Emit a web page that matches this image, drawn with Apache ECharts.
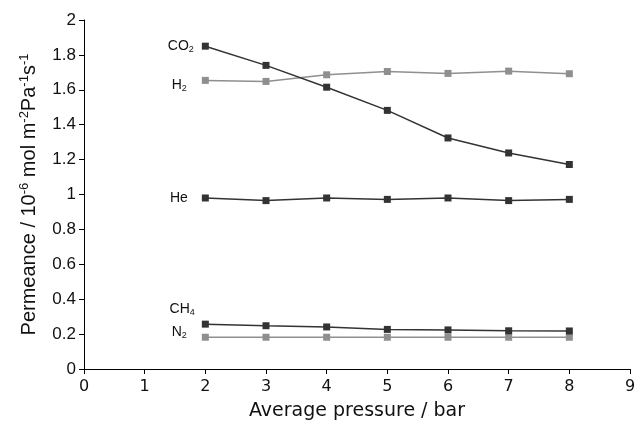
<!DOCTYPE html>
<html><head><meta charset="utf-8">
<script src="https://cdn.jsdelivr.net/npm/echarts@6/dist/echarts.min.js"></script>
<style>html,body{margin:0;padding:0;background:#fff}#c{width:638px;height:425px}</style>
</head><body><div id="c"></div>
<script>
const pressures = [2, 3, 4, 5, 6, 7, 8];
const co2 = [1.85, 1.74, 1.615, 1.482, 1.324, 1.238, 1.172];
const h2 = [1.654, 1.648, 1.686, 1.705, 1.694, 1.707, 1.692];
const he = [0.98, 0.965, 0.98, 0.972, 0.98, 0.965, 0.972];
const ch4 = [0.257, 0.248, 0.241, 0.227, 0.224, 0.219, 0.218];
const n2 = [0.182, 0.182, 0.182, 0.182, 0.182, 0.182, 0.182];
const labels = ['CO{s|2}', 'H{s|2}', 'He', 'CH{s|4}', 'N{s|2}'];

const dark = '#333333', light = '#8f8f8f';
const LS = "Arial, 'Liberation Sans', sans-serif";
function mk(name, vals, color, lab, off) {
  return {
    name, type: 'line', data: pressures.map((p, i) => [p, vals[i]]),
    symbol: 'rect', symbolSize: 7, showSymbol: true,
    lineStyle: {color, width: 1.5}, itemStyle: {color},
    label: {
      show: true, position: 'left', distance: 10, offset: off,
      formatter: p => p.dataIndex === 0 ? lab : '',
      color: '#111', fontFamily: LS, fontSize: 14,
      rich: {s: {fontSize: 9, verticalAlign: 'bottom', padding: [6, 0, 0, 0], color: '#111', fontFamily: LS}}
    },
    z: color === dark ? 3 : 2
  };
}
const chart = echarts.init(document.getElementById('c'));
chart.setOption({
  animation: false,
  grid: {left: 84, right: 8, top: 20, bottom: 56, containLabel: false, outerBoundsMode: 'none'},
  xAxis: {
    type: 'value', min: 0, max: 9, interval: 1,
    name: 'Average pressure / bar', nameLocation: 'middle', nameGap: 33,
    nameTextStyle: {fontFamily: "'DejaVu Sans'", fontSize: 19, color: '#111'},
    axisLine: {lineStyle: {color: '#000', width: 1}},
    axisTick: {show: true, length: 5, lineStyle: {color: '#000'}},
    axisLabel: {fontFamily: "'DejaVu Sans'", fontSize: 16, color: '#111', margin: 10},
    splitLine: {show: false}
  },
  yAxis: {
    type: 'value', min: 0, max: 2, interval: 0.2,
    name: 'Permeance / 10{p|-6} mol m{p|-2}Pa{p|-1}s{p|-1}', nameLocation: 'middle', nameGap: 44,
    nameTextStyle: {fontFamily: LS, fontSize: 20, color: '#111',
      rich: {p: {fontSize: 13, verticalAlign: 'top', padding: [0, 0, 9, 0], color: '#111', fontFamily: LS}}},
    axisLine: {show: true, lineStyle: {color: '#000', width: 1}},
    axisTick: {show: true, length: 5, lineStyle: {color: '#000'}},
    axisLabel: {fontFamily: LS, fontSize: 17, color: '#111', margin: 8,
      formatter: v => String(+v.toFixed(1))},
    splitLine: {show: false}
  },
  series: [
    mk('CO2', co2, dark, labels[0], [2, 0]),
    mk('H2', h2, light, labels[1], [-5, 5]),
    mk('He', he, dark, labels[2], [-4, 0]),
    mk('CH4', ch4, dark, labels[3], [3, -15]),
    mk('N2', n2, light, labels[4], [-5, -5])
  ]
});
</script></body></html>
